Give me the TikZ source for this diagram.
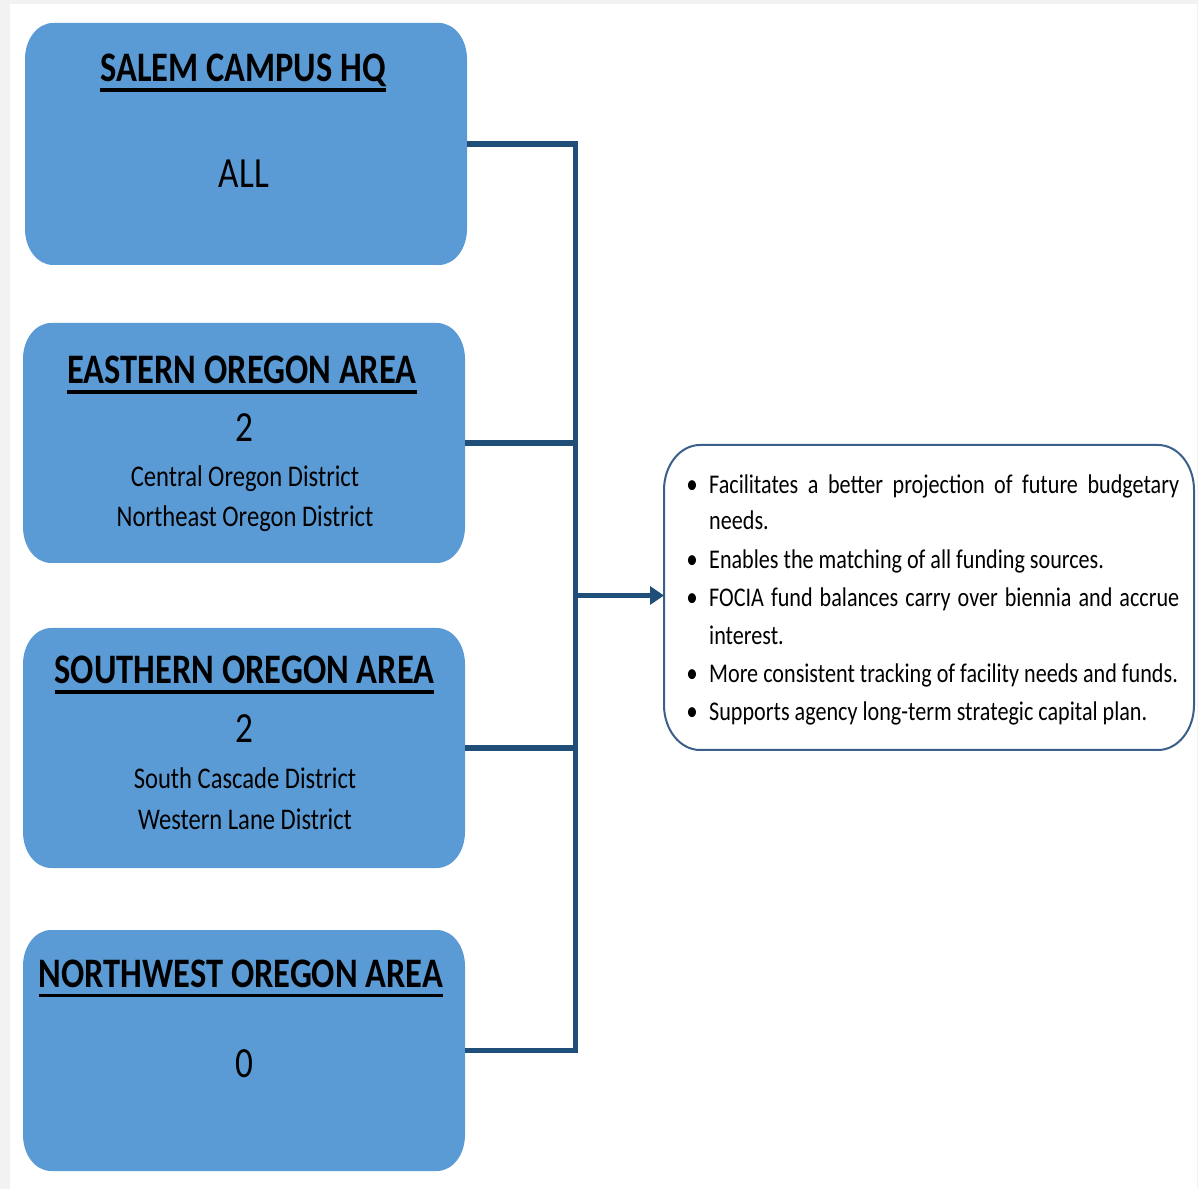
\documentclass[tikz,border=0pt]{standalone}
\usepackage{fontspec}
\setmainfont{Carlito}[FakeStretch=0.82]
\usetikzlibrary{arrows.meta}

\definecolor{areablue}{HTML}{5B9BD5}
\definecolor{linkblue}{HTML}{1F4E79}
\definecolor{noteedge}{HTML}{3A5F8B}
\definecolor{pagegrey}{HTML}{F2F2F2}

% underline set at a fixed distance below the baseline
\newlength\ulw
\newcommand\ulined[1]{\settowidth\ulw{#1}\rlap{\rule[-10pt]{\ulw}{3.5pt}}#1}

% rectangle with elliptical corners around a node: node, x radius, y radius, style
\newcommand\ovalrect[4]{%
  \path[#4] ([xshift=#2pt]#1.north west) -- ([xshift=-#2pt]#1.north east)
    arc[start angle=90,end angle=0,x radius=#2pt,y radius=#3pt]
    -- ([yshift=#3pt]#1.south east)
    arc[start angle=0,end angle=-90,x radius=#2pt,y radius=#3pt]
    -- ([xshift=#2pt]#1.south west)
    arc[start angle=270,end angle=180,x radius=#2pt,y radius=#3pt]
    -- ([yshift=-#3pt]#1.north west)
    arc[start angle=180,end angle=90,x radius=#2pt,y radius=#3pt] -- cycle;}

\tikzset{
  areabox/.style={rectangle, inner sep=0pt, outer sep=0pt, minimum width=442pt, minimum height=241pt},
  areatitle/.style={anchor=base, inner sep=0pt, font=\fontsize{42}{48}\selectfont\bfseries},
  areacount/.style={anchor=base, inner sep=0pt, font=\fontsize{43}{48}\selectfont},
  district/.style={anchor=base, inner sep=0pt, font=\fontsize{30}{36}\selectfont},
  link/.style={draw=linkblue, line width=5.5pt},
  noteline/.style={anchor=base west, inner sep=0pt, font=\fontsize{27}{32}\selectfont},
  notedot/.style={anchor=base, inner sep=0pt, font=\fontsize{28}{32}\selectfont}
}

\begin{document}
\begin{tikzpicture}[x=1pt,y=1pt]
\useasboundingbox (0,0) rectangle (1198,1189);
\fill[pagegrey] (0,0) rectangle (1198,1189);
\fill[white] (10,0) rectangle (1197,1185);

% area boxes
\node[areabox, minimum height=242pt] (hq) at (246,1045) {};
\node[areabox, minimum height=240pt] (east) at (244,746) {};
\node[areabox, minimum height=240pt] (south) at (244,441) {};
\node[areabox] (nw) at (244,138.5) {};
\node[rectangle, inner sep=0pt, outer sep=0pt, minimum width=530pt, minimum height=305pt] (notes) at (929,591.5) {};

\ovalrect{hq}{28}{36}{fill=areablue}
\ovalrect{east}{28}{36}{fill=areablue}
\ovalrect{south}{28}{36}{fill=areablue}
\ovalrect{nw}{28}{36}{fill=areablue}
\ovalrect{notes}{36}{45}{draw=noteedge, line width=2pt, fill=white}

% box texts
\node[areatitle] (hqT) at (243,1107) {\ulined{SALEM CAMPUS HQ}};
\node[areacount] (hqN) at (244,1001) {ALL};

\node[areatitle] (eastT) at (242,805) {\ulined{EASTERN OREGON AREA}};
\node[areacount] (eastN) at (244,747) {2};
\node[district] (eastD1) at (245,702) {Central Oregon District};
\node[district] (eastD2) at (245,662) {Northeast Oregon District};

\node[areatitle] (southT) at (244.5,505) {\ulined{SOUTHERN OREGON AREA}};
\node[areacount] (southN) at (244,446) {2};
\node[district] (southD1) at (245,400) {South Cascade District};
\node[district] (southD2) at (245,360) {Western Lane District};

\node[areatitle] (nwT) at (241,202) {\ulined{NORTHWEST OREGON AREA}};
\node[areacount] (nwN) at (244,112) {0};

% bullet list
\node[notedot] (d1) at (692,695) {•};
\node[noteline] (l1) at (709,695) {\makebox[470pt][s]{Facilitates a better projection of future budgetary}};
\node[noteline] (l1b) at (709,659) {needs.};
\node[notedot] (d2) at (692,620) {•};
\node[noteline] (l2) at (709,620) {Enables the matching of all funding sources.};
\node[notedot] (d3) at (692,582) {•};
\node[noteline] (l3) at (709,582) {\makebox[470pt][s]{FOCIA fund balances carry over biennia and accrue}};
\node[noteline] (l3b) at (709,544) {interest.};
\node[notedot] (d4) at (692,506) {•};
\node[noteline] (l4) at (709,506) {More consistent tracking of facility needs and funds.};
\node[notedot] (d5) at (692,468) {•};
\node[noteline] (l5) at (709,468) {Supports agency long-term strategic capital plan.};

% connectors
\coordinate (spine) at (575.5,593.5);
\draw[link] (hq.east) -- (spine |- hq.east) -- (spine |- nw.east) -- (nw.east);
\draw[link] (east.east) -- (spine |- east.east);
\draw[link] (south.east) -- (spine |- south.east);
\draw[link, -{Triangle[length=14pt,width=18pt]}] (spine) -- (spine -| notes.west);
\end{tikzpicture}
\end{document}
